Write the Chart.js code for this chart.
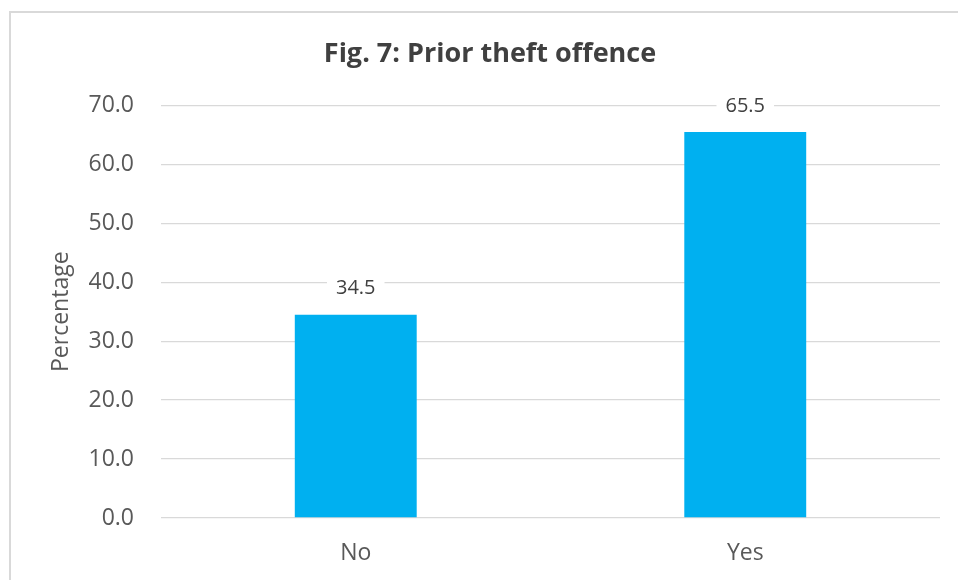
<!DOCTYPE html>
<html>
<head>
<meta charset="utf-8">
<script src="https://cdn.jsdelivr.net/npm/chart.js@4"></script>
<style>
  html, body { margin: 0; padding: 0; background: #fff; }
  #wrap { position: relative; width: 958px; height: 580px; overflow: hidden; }
  #frame {
    position: absolute; left: 9px; top: 11px; width: 1000px; height: 700px;
    border: 2px solid #d9d9d9;
  }
  canvas { position: absolute; left: 0; top: 0; }
</style>
</head>
<body>
<div id="wrap">
  <div id="frame"></div>
  <canvas id="chart" width="958" height="580"></canvas>
</div>
<script>
const categories = ["No", "Yes"];
const percentages = [34.5, 65.5];
const yTicks = [0, 10, 20, 30, 40, 50, 60, 70];

const FONT = "'Open Sans', 'Noto Sans', sans-serif";

// value labels above each bar, on a white box that cuts the gridlines
const barLabels = {
  id: "barLabels",
  afterDatasetsDraw(chart) {
    const ctx = chart.ctx;
    const meta = chart.getDatasetMeta(0);
    ctx.save();
    ctx.font = `20px ${FONT}`;
    ctx.textAlign = "center";
    ctx.textBaseline = "middle";
    meta.data.forEach((bar, i) => {
      const text = percentages[i].toFixed(1);
      const w = ctx.measureText(text).width + 18;
      const y = bar.y - 26;
      ctx.fillStyle = "#fff";
      ctx.fillRect(bar.x - w / 2, y - 12, w, 24);
      ctx.fillStyle = "#404040";
      ctx.fillText(text, bar.x, y);
    });
    ctx.restore();
  },
};

// nudge the title a little right of the canvas centre
const titleShift = {
  id: "titleShift",
  afterLayout(chart) {
    const t = chart.titleBlock;
    if (t) {
      t.left += 20;
      t.right += 20;
    }
  },
};

new Chart(document.getElementById("chart"), {
  type: "bar",
  data: {
    labels: categories,
    datasets: [
      {
        data: percentages,
        backgroundColor: "#00b0f0",
        categoryPercentage: 1,
        barPercentage: 0.313,
      },
    ],
  },
  options: {
    responsive: false,
    animation: false,
    layout: { padding: { left: 0, right: 18, top: 0, bottom: 0 } },
    plugins: {
      legend: { display: false },
      tooltip: { enabled: false },
      title: {
        display: true,
        text: "Fig. 7: Prior theft offence",
        color: "#404040",
        font: { family: FONT, size: 27, weight: "bold", lineHeight: 1.2 },
        padding: { top: 38, bottom: 35 },
      },
    },
    scales: {
      x: {
        grid: { display: false, drawTicks: false },
        border: { display: false },
        ticks: {
          color: "#595959",
          font: { family: FONT, size: 23, lineHeight: 1.2 },
          padding: 22,
        },
        afterFit(scale) { scale.height = 62; },
      },
      y: {
        min: 0,
        max: 70,
        afterBuildTicks(scale) {
          scale.ticks = yTicks.map((v) => ({ value: v }));
        },
        grid: { color: "#d9d9d9", lineWidth: 1.3, drawTicks: false },
        border: { display: false },
        ticks: {
          color: "#595959",
          font: { family: FONT, size: 23, lineHeight: 1.2 },
          padding: 27,
          callback: (v) => Number(v).toFixed(1),
        },
        title: {
          display: true,
          text: "Percentage",
          color: "#595959",
          font: { family: FONT, size: 23, lineHeight: 1.2 },
          padding: { top: 48, bottom: 0 },
        },
        afterFit(scale) { scale.width = 161; },
      },
    },
  },
  plugins: [barLabels, titleShift],
});
</script>
</body>
</html>
